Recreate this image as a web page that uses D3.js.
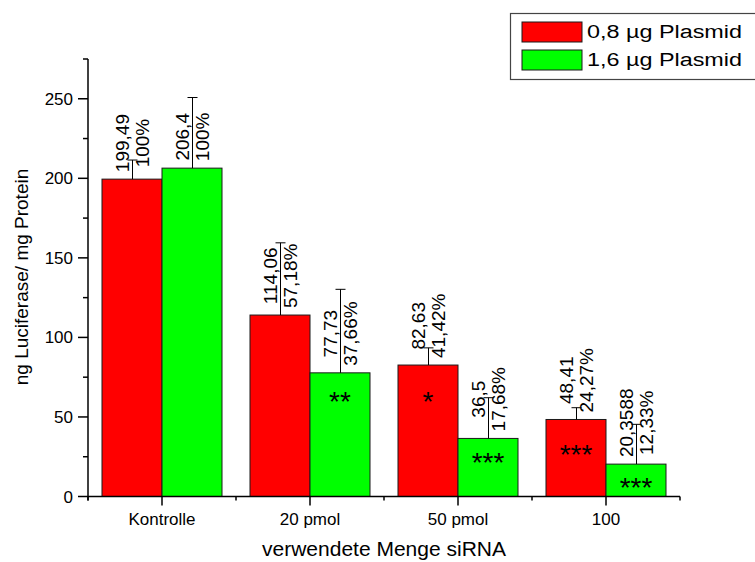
<!DOCTYPE html>
<html>
<head>
<meta charset="utf-8">
<script src="https://cdn.jsdelivr.net/npm/d3@7"></script>
<style>
  html, body { margin: 0; padding: 0; background: #fff; }
  svg { display: block; font-family: "Liberation Sans", Arial, sans-serif; }
</style>
</head>
<body>
<svg id="chart" width="755" height="562"></svg>
<script>
// Luciferase expression per mg protein after siRNA treatment
const categories = ["Kontrolle", "20 pmol", "50 pmol", "100"];
const seriesNames = ["0,8 µg Plasmid", "1,6 µg Plasmid"];
const values08 = [199.49, 114.06, 82.63, 48.41];
const values16 = [206.4, 77.73, 36.5, 20.3588];
const errors08 = [12.0, 45.4, 10.8, 7.4];
const errors16 = [44.4, 52.5, 25.6, 25.0];
const percent08 = ["100%", "57,18%", "41,42%", "24,27%"];
const percent16 = ["100%", "37,66%", "17,68%", "12,33%"];
const stars08 = ["", "", "*", "***"];
const stars16 = ["", "**", "***", "***"];
const yTicks = [0, 50, 100, 150, 200, 250];
const yMinorTicks = [25, 75, 125, 175, 225, 275];
const yTitle = "ng Luciferase/ mg Protein";
const xTitle = "verwendete Menge siRNA";

const colors = ["#ff0000", "#00ff00"];

const svg = d3.select("#chart");

// Plot frame
const plotL = 88, plotR = 680, plotB = 496.5, plotT = 59;

const x0 = d3.scaleBand().domain(categories).range([plotL, plotR]).padding(0);
const x1 = d3.scaleBand().domain([0, 1]).range([0, x0.bandwidth()])
  .paddingInner(0).paddingOuter(0.2333);
const y = d3.scaleLinear().domain([0, 275]).range([plotB, plotT]);

const rows = [];
categories.forEach((c, i) => {
  rows.push({ cat: c, s: 0, v: values08[i], e: errors08[i], pct: percent08[i], star: stars08[i] });
  rows.push({ cat: c, s: 1, v: values16[i], e: errors16[i], pct: percent16[i], star: stars16[i] });
});

// drop (px below bar top) of the significance stars, in row order
const starDrop = [0, 0, 0, 22, 30, 18, 29, 17];

const bx = d => x0(d.cat) + x1(d.s);
const cx = d => bx(d) + x1.bandwidth() / 2;

// Bars
svg.append("g").selectAll("rect").data(rows).join("rect")
  .attr("x", d => bx(d))
  .attr("y", d => y(d.v))
  .attr("width", x1.bandwidth())
  .attr("height", d => y(0) - y(d.v))
  .attr("fill", d => colors[d.s])
  .attr("stroke", "#1a1a1a")
  .attr("stroke-width", 1);

// Error bars (upper only)
const eg = svg.append("g").attr("stroke", "#000").attr("stroke-width", 1);
rows.forEach(d => {
  const xc = Math.round(cx(d)) + 0.5;
  eg.append("line").attr("x1", xc).attr("x2", xc).attr("y1", y(d.v)).attr("y2", y(d.v + d.e));
  eg.append("line").attr("x1", xc - 5).attr("x2", xc + 5).attr("y1", y(d.v + d.e)).attr("y2", y(d.v + d.e));
});

// Value / percent labels, rotated above each bar
const fmt = v => String(v).replace(".", ",");
const lg = svg.append("g").attr("font-size", "19px").attr("fill", "#000");
rows.forEach(d => {
  const g = lg.append("g");
  const t1 = g.append("text").text(fmt(d.v)).attr("text-anchor", "middle");
  const t2 = g.append("text").text(d.pct).attr("text-anchor", "middle");
  const w = Math.max(t1.node().getComputedTextLength(), t2.node().getComputedTextLength());
  const yc = y(d.v) - 7 - w / 2;
  t1.attr("transform", `translate(${cx(d) - 3},${yc}) rotate(-90)`);
  t2.attr("transform", `translate(${cx(d) + 17},${yc}) rotate(-90)`);
});

// Significance stars inside bars
svg.append("g").selectAll("text").data(rows.map((d, i) => ({ d, i })).filter(o => o.d.star))
  .join("text")
  .attr("x", o => cx(o.d))
  .attr("y", o => y(o.d.v) + starDrop[o.i] + 16)
  .attr("text-anchor", "middle")
  .attr("font-size", "28px")
  .attr("fill", "#000")
  .text(o => o.d.star);

// Y axis
const ya = svg.append("g").attr("stroke", "#000").attr("stroke-width", 1.5);
ya.append("line").attr("x1", plotL).attr("x2", plotL).attr("y1", plotT).attr("y2", plotB + 4);
yTicks.forEach(t => ya.append("line").attr("x1", plotL - 10).attr("x2", plotL).attr("y1", y(t)).attr("y2", y(t)));
yMinorTicks.forEach(t => ya.append("line").attr("x1", plotL - 5).attr("x2", plotL).attr("y1", y(t)).attr("y2", y(t)));
svg.append("g").selectAll("text").data(yTicks).join("text")
  .attr("x", 73).attr("y", t => y(t) + 6)
  .attr("text-anchor", "end").attr("font-size", "17px").attr("fill", "#000")
  .text(t => t);

// X axis
const xa = svg.append("g").attr("stroke", "#000").attr("stroke-width", 1.5);
xa.append("line").attr("x1", plotL).attr("x2", plotR).attr("y1", plotB).attr("y2", plotB);
categories.forEach(c => {
  const xm = x0(c) + x0.bandwidth() / 2;
  xa.append("line").attr("x1", xm).attr("x2", xm).attr("y1", plotB).attr("y2", plotB + 9);
});
categories.concat([null]).forEach(c => {
  const xb = c === null ? plotR : x0(c);
  xa.append("line").attr("x1", xb).attr("x2", xb).attr("y1", plotB).attr("y2", plotB + 4);
});
svg.append("g").selectAll("text").data(categories).join("text")
  .attr("x", c => x0(c) + x0.bandwidth() / 2).attr("y", 525)
  .attr("text-anchor", "middle").attr("font-size", "17px").attr("fill", "#000")
  .text(c => c);

// Axis titles
svg.append("text").attr("transform", "translate(27.5,277) rotate(-90)")
  .attr("text-anchor", "middle").attr("font-size", "19px").text(yTitle);
svg.append("text").attr("x", 384).attr("y", 556)
  .attr("text-anchor", "middle").attr("font-size", "21px").text(xTitle);

// Legend
const leg = svg.append("g");
leg.append("rect").attr("x", 510.5).attr("y", 13.5).attr("width", 260).attr("height", 66)
  .attr("fill", "#fff").attr("stroke", "#444").attr("stroke-width", 1.2);
seriesNames.forEach((n, i) => {
  leg.append("rect").attr("x", 522).attr("y", 22 + i * 28).attr("width", 60).attr("height", 20)
    .attr("fill", colors[i]).attr("stroke", "#1a1a1a").attr("stroke-width", 1);
  leg.append("text").attr("x", 587).attr("y", 38 + i * 28)
    .attr("font-size", "18px").attr("textLength", 155).attr("lengthAdjust", "spacingAndGlyphs")
    .text(n);
});
</script>
</body>
</html>
